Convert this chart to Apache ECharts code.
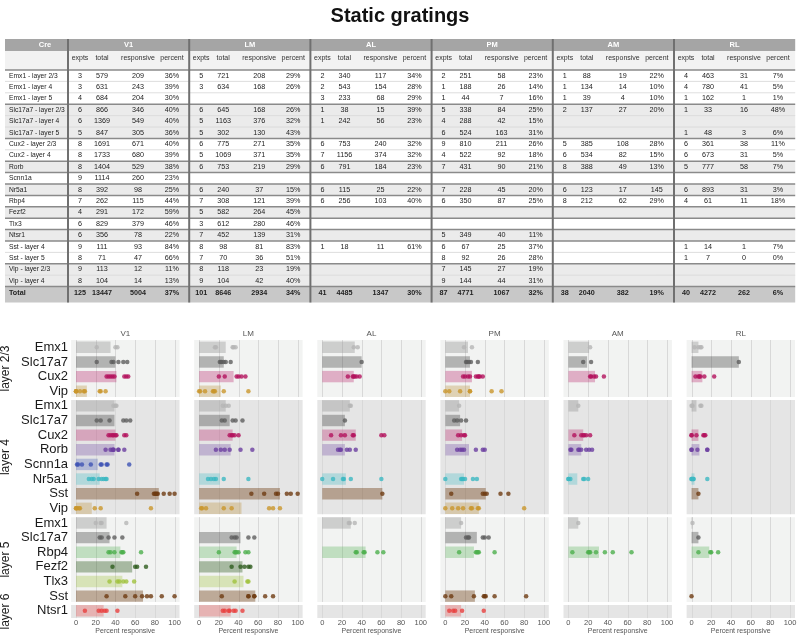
<!DOCTYPE html>
<html><head><meta charset="utf-8">
<script src="https://cdn.jsdelivr.net/npm/echarts@6.0.0/dist/echarts.min.js"></script>
<style>html,body{margin:0;padding:0;background:#fff}#c{width:800px;height:636px}</style>
</head><body><div id="c"></div>
<script>
// ---------------- DATA ----------------
const areas = ['V1','LM','AL','PM','AM','RL'];
const subHeads = ['expts','total','responsive','percent'];
const creRows = ['Emx1 - layer 2/3','Emx1 - layer 4','Emx1 - layer 5','Slc17a7 - layer 2/3','Slc17a7 - layer 4','Slc17a7 - layer 5','Cux2 - layer 2/3','Cux2 - layer 4','Rorb','Scnn1a','Nr5a1','Rbp4','Fezf2','Tlx3','Ntsr1','Sst - layer 4','Sst - layer 5','Vip - layer 2/3','Vip - layer 4'];
const tblV1 = [[3,579,209,'36%'],[3,631,243,'39%'],[4,684,204,'30%'],[6,866,346,'40%'],[6,1369,549,'40%'],[5,847,305,'36%'],[8,1691,671,'40%'],[8,1733,680,'39%'],[8,1404,529,'38%'],[9,1114,260,'23%'],[8,392,98,'25%'],[7,262,115,'44%'],[4,291,172,'59%'],[6,829,379,'46%'],[6,356,78,'22%'],[9,111,93,'84%'],[8,71,47,'66%'],[9,113,12,'11%'],[8,104,14,'13%']];
const tblLM = [[5,721,208,'29%'],[3,634,168,'26%'],null,[6,645,168,'26%'],[5,1163,376,'32%'],[5,302,130,'43%'],[6,775,271,'35%'],[5,1069,371,'35%'],[6,753,219,'29%'],null,[6,240,37,'15%'],[7,308,121,'39%'],[5,582,264,'45%'],[3,612,280,'46%'],[7,452,139,'31%'],[8,98,81,'83%'],[7,70,36,'51%'],[8,118,23,'19%'],[9,104,42,'40%']];
const tblAL = [[2,340,117,'34%'],[2,543,154,'28%'],[3,233,68,'29%'],[1,38,15,'39%'],[1,242,56,'23%'],null,[6,753,240,'32%'],[7,1156,374,'32%'],[6,791,184,'23%'],null,[6,115,25,'22%'],[6,256,103,'40%'],null,null,null,[1,18,11,'61%'],null,null,null];
const tblPM = [[2,251,58,'23%'],[1,188,26,'14%'],[1,44,7,'16%'],[5,338,84,'25%'],[4,288,42,'15%'],[6,524,163,'31%'],[9,810,211,'26%'],[4,522,92,'18%'],[7,431,90,'21%'],null,[7,228,45,'20%'],[6,350,87,'25%'],null,null,[5,349,40,'11%'],[6,67,25,'37%'],[8,92,26,'28%'],[7,145,27,'19%'],[9,144,44,'31%']];
const tblAM = [[1,88,19,'22%'],[1,134,14,'10%'],[1,39,4,'10%'],[2,137,27,'20%'],null,null,[5,385,108,'28%'],[6,534,82,'15%'],[8,388,49,'13%'],null,[6,123,17,'145'],[8,212,62,'29%'],null,null,null,null,null,null,null];
const tblRL = [[4,463,31,'7%'],[4,780,41,'5%'],[1,162,1,'1%'],[1,33,16,'48%'],null,[1,48,3,'6%'],[6,361,38,'11%'],[6,673,31,'5%'],[5,777,58,'7%'],null,[6,893,31,'3%'],[4,61,11,'18%'],null,null,null,[1,14,1,'7%'],[1,7,0,'0%'],null,null];
const tblTotal = [[125,13447,5004,'37%'],[101,8646,2934,'34%'],[41,4485,1347,'30%'],[87,4771,1067,'32%'],[38,2040,382,'19%'],[40,4272,262,'6%']];

const rowLabels = ['Emx1','Slc17a7','Cux2','Vip','Emx1','Slc17a7','Cux2','Rorb','Scnn1a','Nr5a1','Sst','Vip','Emx1','Slc17a7','Rbp4','Fezf2','Tlx3','Sst','Ntsr1'];
const layerNames = ['layer 2/3','layer 4','layer 5','layer 6'];
const layerRows = [[0,3],[4,11],[12,17],[18,18]];

const barsV1 = [35,40,41,11,39,39,40,39,22,24,84,16,31,34,45,57,47,68,28];
const barsLM = [27,25,35,22,27,31,34,32,null,21,82,43,null,42,38,44,45,57,32];
const barsAL = [33,40,32,null,28,23,34,23,null,24,61,null,29,null,44,null,null,null,null];
const barsPM = [23,25,27,25,14,15,17,24,null,19,41,34,16,32,29,null,null,30,16];
const barsAM = [21,19,27,null,10,null,15,13,null,9,null,null,10,null,31,null,null,null,null];
const barsRL = [7,48,11,null,5,null,7,8,null,3,7,null,1,7,18,null,null,0,null];

const dotsV1 = [[21,40,42],[21,36,38,43,48,52],[31,33,35,37,39,49,51,53],[0,0,0,4,8,9,24,25,30],[38,40,41],[21,25,34,48,51,55],[33,35,37,38,40,41,49,51],[30,35,37,38,38,43,43,49],[1,2,6,15,25,26,31,32,54],[13,16,18,23,26,28,30,31],[62,79,80,81,82,83,89,95,100],[0,0,1,3,4,19,25,76],[20,25,26,51],[24,26,33,39,47],[33,35,39,46,47,48,66],[37,60,62,71],[34,42,44,48,51,59],[31,50,60,67,72,76,87,100],[9,23,26,29,31,42]];
const dotsLM = [[16,17,34,35,37],[21,22,23,25,27,32],[20,26,38,40,43,47],[0,1,6,14,15,16,25,50],[24,27,30],[23,26,34,37,44],[31,33,34,36,40],[17,22,26,31,42,54],[],[9,12,15,17,25,50],[53,66,78,80,89,93,100],[2,3,7,25,33,71,75,82],[],[33,36,38,50,56],[20,36,37,38,40,47,50],[33,42,46,50,52],[36,49,50],[23,50,50,56,56,67,75],[24,26,30,31,35,37,44]];
const dotsAL = [[32,36],[40],[26,31,32,33,35,38],[],[28,29],[23],[9,19,23,31,32,60,63],[16,18,19,25,28,34],[],[0,11,21,22,29,60],[61],[],[27,28,33],[],[34,35,42,43,56,62],[],[],[],[]];
const dotsPM = [[19,27],[21,22,24,26,33],[18,20,23,25,31,33,34,35,38],[0,4,15,25,25,47,57],[14],[9,12,16,21],[13,16,19,20],[12,15,17,19,31,38,40],[],[0,16,17,18,20,28,32],[6,38,40,42,56,64],[0,7,13,18,26,27,33,34,80],[16],[21,23,24,38,40,44],[14,31,32,33,34,50],[],[],[0,6,29,39,40,41,50,82],[4,8,10,17,39]];
const dotsAM = [[22],[15,23],[22,23,26,28,36],[],[10],[],[6,13,15,16,18,22],[2,3,10,11,13,18,21,24],[],[0,0,2,15,16,20],[],[],[10],[],[4,20,21,22,28,37,45,64],[],[],[],[]];
const dotsRL = [[3,7,9,10],[48],[4,7,8,9,13,23],[],[0,1,9,10],[],[0,0,5,12,13,14],[0,0,6,16,16],[],[0,0,1,2,2,16],[7],[],[1],[7],[7,19,20,27],[],[],[0],[]];

// ---------------- STYLE / LAYOUT ----------------
const FONT = 'Liberation Sans, Arial, Helvetica, sans-serif';
const tables = [tblV1,tblLM,tblAL,tblPM,tblAM,tblRL];
const barsAll = [barsV1,barsLM,barsAL,barsPM,barsAM,barsRL];
const dotsAll = [dotsV1,dotsLM,dotsAL,dotsPM,dotsAM,dotsRL];
const creStyle = {
  Emx1:['#b5b5b5','rgba(150,150,150,0.4)'],
  Slc17a7:['#5e5e5e','rgba(60,60,60,0.35)'],
  Cux2:['#b3125c','rgba(179,18,92,0.3)'],
  Vip:['#c9962c','rgba(190,150,70,0.35)'],
  Rorb:['#6b3fa0','rgba(107,63,160,0.3)'],
  Scnn1a:['#3d52b4','rgba(61,82,180,0.3)'],
  Nr5a1:['#3cb8c2','rgba(60,184,194,0.3)'],
  Sst:['#6e3b12','rgba(110,59,18,0.4)'],
  Rbp4:['#4caf4c','rgba(76,175,76,0.3)'],
  Fezf2:['#2e5c1e','rgba(46,92,30,0.38)'],
  Tlx3:['#a0c23c','rgba(160,194,60,0.32)'],
  Ntsr1:['#e8403e','rgba(232,64,62,0.3)']
};

// table layout (axis units)
const CRE_W = 63, GW = 121.2, SUB = [12,34,70,104];
const H1 = 1.053, H2 = 2.72, TOT_H = 1.4;
const XMAX = CRE_W + 6*GW;
const NR = creRows.length;
const YMAX = H2 + NR + TOT_H;
const items = [];
const R = (x0,y0,x1,y1,fill)=>items.push({kind:'rect',x0,y0,x1,y1,fill});
const L = (x0,y0,x1,y1,stroke,lw)=>items.push({kind:'line',x0,y0,x1,y1,stroke,lw});
const TX = (x,y,text,o)=>items.push(Object.assign({kind:'text',x0:x,y0:y,x1:x,y1:y,text:String(text)},o||{}));
const creOf = creRows.map(n=>n.split(' ')[0]);
let grp = 0; const grpIdx = creOf.map((c,i)=>{ if(i>0 && c!==creOf[i-1]) grp++; return grp; });

R(0,0,XMAX,H1,'#a5a5a5');
R(0,H1,XMAX,H2,'#f2f2f2');
for(let i=0;i<NR;i++) R(0,H2+i,XMAX,H2+i+1, grpIdx[i]%2 ? '#ebebeb' : '#ffffff');
R(0,H2+NR,XMAX,YMAX,'#c8c8c8');
for(let i=0;i<=NR;i++){
  const thick = i===0 || i===NR || creOf[i]!==creOf[i-1];
  L(0,H2+i,XMAX,H2+i, thick?'#8a8a8a':'#d6d6d6', thick?1.5:0.8);
}
for(let g=0;g<6;g++) L(CRE_W+g*GW,0,CRE_W+g*GW,YMAX,'#707070',2);
TX(40,H1/2,'Cre',{fill:'#fff',bold:true,size:7.5});
areas.forEach((a,g)=>{
  TX(CRE_W+g*GW+GW/2,H1/2,a,{fill:'#fff',bold:true,size:7.5});
  subHeads.forEach((s,k)=>TX(CRE_W+g*GW+SUB[k],1.7,s,{fill:'#333',size:7}));
  tables[g].forEach((row,i)=>{ if(row) row.forEach((v,k)=>TX(CRE_W+g*GW+SUB[k],H2+i+0.5,v,{size:7.2})); });
  tblTotal[g].forEach((v,k)=>TX(CRE_W+g*GW+SUB[k],H2+NR+0.6,v,{size:7.2,bold:true}));
});
creRows.forEach((n,i)=>TX(4,H2+i+0.5,n,{size:6.7,left:true}));
TX(4,H2+NR+0.6,'Total',{size:7.2,left:true,bold:true});

function tableRender(params, api){
  const m = items[params.dataIndex];
  const p0 = api.coord([m.x0,m.y0]), p1 = api.coord([m.x1,m.y1]);
  if(m.kind==='rect') return {type:'rect',z2:0,shape:{x:p0[0],y:p0[1],width:p1[0]-p0[0],height:p1[1]-p0[1]},style:{fill:m.fill}};
  if(m.kind==='line') return {type:'line',z2:1,shape:{x1:p0[0],y1:p0[1],x2:p1[0],y2:p1[1]},style:{stroke:m.stroke,lineWidth:m.lw}};
  return {type:'text',z2:2,x:p0[0],y:p0[1],style:{text:m.text,fill:m.fill||'#222',fontSize:m.size||7,fontFamily:FONT,fontWeight:m.bold?'bold':'normal',align:m.left?'left':'center',textAlign:m.left?'left':'center',verticalAlign:'middle',textVerticalAlign:'middle'}};
}

const grids = [{left:5,top:39,width:XMAX,height:YMAX*11.4}];
const xAxes = [{gridIndex:0,type:'value',min:0,max:XMAX,show:false}];
const yAxes = [{gridIndex:0,type:'value',min:0,max:YMAX,inverse:true,show:false}];
const series = [{type:'custom',xAxisIndex:0,yAxisIndex:0,clip:false,silent:true,
  data:items.map(m=>[m.x0,m.y0,m.x1,m.y1]),encode:{x:[0,2],y:[1,3]},renderItem:tableRender}];

const TICKS = [0,20,40,60,80,100];
areas.forEach((a,p)=>{
  const gi = p+1;
  grids.push({left:71.1+123.1*p, top:340, width:108.4, height:281});
  xAxes.push({gridIndex:gi,type:'value',min:-5,max:105,interval:5,
    axisLine:{show:false},axisTick:{show:false},splitLine:{show:false},
    axisLabel:{formatter:v=>(v%20===0?String(v):''),fontSize:7.5,color:'#555',margin:1,fontFamily:FONT},
    name:'Percent responsive',nameLocation:'middle',nameGap:7,nameTextStyle:{fontSize:7,color:'#555',fontFamily:FONT}});
  xAxes.push({gridIndex:gi,type:'value',position:'top',min:-5,max:105,
    axisLine:{show:false},axisTick:{show:false},axisLabel:{show:false},splitLine:{show:false},
    name:a,nameLocation:'middle',nameGap:2,nameTextStyle:{fontSize:8,color:'#555',fontFamily:FONT}});
  yAxes.push({gridIndex:gi,type:'category',inverse:true,data:rowLabels.map((_,i)=>String(i)),
    axisLine:{show:false},axisTick:{show:false},splitLine:{show:false},
    axisLabel:p===0?{show:true,interval:0,fontSize:13,color:'#1a1a1a',margin:3,fontFamily:FONT,formatter:v=>rowLabels[+v]}:{show:false}});
  const xi = 1+2*p, yi = gi;
  series.push({type:'custom',xAxisIndex:xi,yAxisIndex:yi,clip:false,silent:true,z:0,
    data:layerRows.map(r=>[-5,r[0],r[1]]),encode:{x:0,y:[1,2]},
    renderItem:(params,api)=>{
      const s=api.value(1), e=api.value(2);
      const h=api.size([0,1])[1];
      let top=api.coord([0,s])[1]-h/2, bot=api.coord([0,e])[1]+h/2;
      if(s>0) top+=1.5; if(e<rowLabels.length-1) bot-=1.5;
      const cs=params.coordSys;
      const ch=[{type:'rect',shape:{x:cs.x,y:top,width:cs.width,height:bot-top},style:{fill:params.dataIndex%2?'#e5e5e5':'#f2f3f2'}}];
      TICKS.forEach(v=>{const x=Math.round(api.coord([v,s])[0])+0.5; ch.push({type:'line',shape:{x1:x,y1:top,x2:x,y2:bot},style:{stroke:'#d8d8d8',lineWidth:1}});});
      if(p===0) ch.push({type:'text',x:cs.x-65,y:(top+bot)/2,rotation:Math.PI/2,style:{text:layerNames[params.dataIndex],fontSize:12,fill:'#1a1a1a',fontFamily:FONT,align:'center',textAlign:'center',verticalAlign:'middle',textVerticalAlign:'middle'}});
      return {type:'group',children:ch};
    }});
  series.push({type:'bar',xAxisIndex:xi,yAxisIndex:yi,barWidth:'78%',silent:true,z:2,
    data:barsAll[p].map((v,i)=>v==null?'-':{value:v,itemStyle:{color:creStyle[rowLabels[i]][1]}})});
  const pts=[];
  dotsAll[p].forEach((arr,i)=>arr.forEach(v=>pts.push({value:[v,i],itemStyle:{color:creStyle[rowLabels[i]][0]}})));
  series.push({type:'scatter',xAxisIndex:xi,yAxisIndex:yi,symbolSize:4.5,silent:true,z:3,data:pts});
});

const chart = echarts.init(document.getElementById('c'));
chart.setOption({
  animation:false,
  backgroundColor:'#ffffff',
  title:{text:'Static gratings',left:'center',top:1,textStyle:{fontSize:20,fontWeight:'bold',color:'#111',fontFamily:FONT}},
  grid:grids, xAxis:xAxes, yAxis:yAxes, series:series
});
</script></body></html>
